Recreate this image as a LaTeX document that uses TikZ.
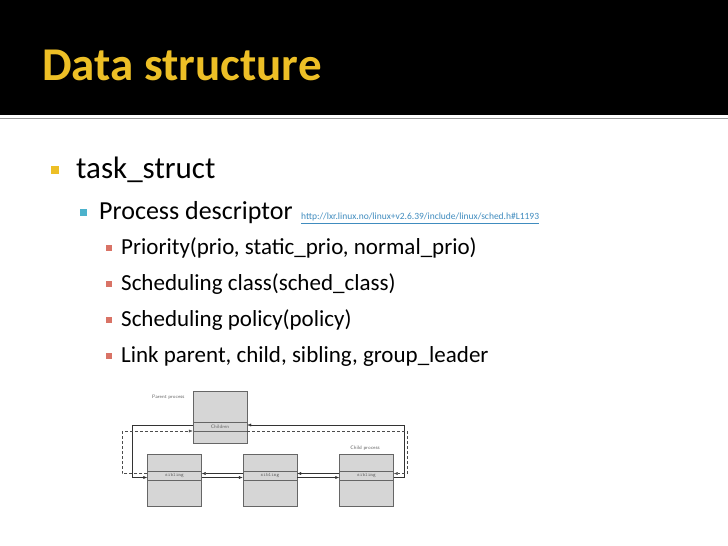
\documentclass[tikz,border=0pt]{standalone}
\usepackage{fontspec}
\setmainfont{Carlito}
\usetikzlibrary{arrows.meta, positioning}
\definecolor{titleyellow}{rgb}{0.93, 0.75, 0.15}
\definecolor{boxgrey}{rgb}{0.84, 0.84, 0.84}
\definecolor{urlblue}{rgb}{0.25, 0.55, 0.75}
\definecolor{bulcyan}{rgb}{0.30, 0.70, 0.80}
\definecolor{bulred}{rgb}{0.85, 0.45, 0.40}
\tikzset{
    procbox/.style={draw=black!60, fill=boxgrey, minimum width=54pt, minimum height=52pt, inner sep=0pt},
    linkrow/.style={draw=black!60, fill=boxgrey, minimum width=54pt, minimum height=9pt, inner sep=0pt, font=\ttfamily\fontsize{5}{5}\selectfont, text=black!60},
    link/.style={-{Latex[length=4pt]}, black!80, thin},
    backlink/.style={-{Latex[length=4pt]}, black!70, thin, densely dashed},
    item/.style={anchor=west, inner sep=0pt}
}
\begin{document}
\begin{tikzpicture}[x=1pt, y=-1pt]
    \useasboundingbox (0,0) rectangle (728,546);
    \fill[white] (0,0) rectangle (728,546);
    \fill[black] (0,0) rectangle (728,115);
    \draw[black!40] (0,118) -- (728,118);
    \node (title) [item, text=titleyellow, font=\bfseries\fontsize{47}{47}\selectfont] at (42,65) {Data structure};

    % Bullet list
    \fill[titleyellow] (51,166) rectangle (59,174);
    \node (l1) [item, font=\fontsize{31}{31}\selectfont] at (76,170) {task\_struct};
    \fill[bulcyan] (80,209) rectangle (87,216);
    \node (l2) [item, font=\fontsize{26}{26}\selectfont] at (99,213) {Process descriptor};
    \node (url) [right=8pt of l2.base east, anchor=base west, inner sep=0pt, text=urlblue, font=\fontsize{9.5}{9.5}\selectfont] {\underline{http://lxr.linux.no/linux+v2.6.39/include/linux/sched.h\#L1193}};
    \foreach \t [count=\i] in {{Priority(prio, static\_prio, normal\_prio)}, {Scheduling class(sched\_class)}, {Scheduling policy(policy)}, {Link parent, child, sibling, group\_leader}} {
        \fill[bulred] (106,{248+36*(\i-1)-3}) rectangle (112,{248+36*(\i-1)+3});
        \node (l3\i) [item, font=\fontsize{23}{23}\selectfont] at (121,{248+36*(\i-1)}) {\t};
    }

    % Process diagram
    \node (parent) [procbox] at (220,417) {};
    \node (children) [linkrow, font=\sffamily\fontsize{5}{5}\selectfont] at (220,427) {Children};
    \node (plabel) [anchor=east, text=black!60, font=\sffamily\fontsize{5}{5}\selectfont] at (188,397) {Parent process};
    \node (proc1) [procbox] at (174.5,480) {};
    \node (sib1) [linkrow] at (174.5,475.5) {sibling};
    \node (proc2) [procbox] at (270,480) {};
    \node (sib2) [linkrow] at (270,475.5) {sibling};
    \node (proc3) [procbox] at (366.5,480) {};
    \node (sib3) [linkrow] at (366.5,475.5) {sibling};
    \node (clabel) [text=black!60, font=\sffamily\fontsize{5}{5}\selectfont] at (365,448) {Child process};

    % Links between siblings
    \draw[link] ([yshift=-2pt]sib1.east) -- ([yshift=-2pt]sib2.west);
    \draw[link] ([yshift=-2pt]sib2.east) -- ([yshift=-2pt]sib3.west);
    \draw[link] ([yshift=2pt]sib2.west) -- ([yshift=2pt]sib1.east);
    \draw[link] ([yshift=2pt]sib3.west) -- ([yshift=2pt]sib2.east);

    % Links to and from the parent
    \draw[link] ([yshift=2pt]children.west) -| ++(-61,0) |- ([yshift=-2pt]sib1.west);
    \draw[backlink] ([yshift=2pt]sib1.west) -| ++(-25,0) |- ([yshift=-4pt]children.west);
    \draw[link] ([yshift=-2pt]sib3.east) -| ++(10,0) |- ([yshift=2pt]children.east);
    \draw[backlink] ([yshift=-4pt]children.east) -| ++(160,0) |- ([yshift=2pt]sib3.east);
\end{tikzpicture}
\end{document}
